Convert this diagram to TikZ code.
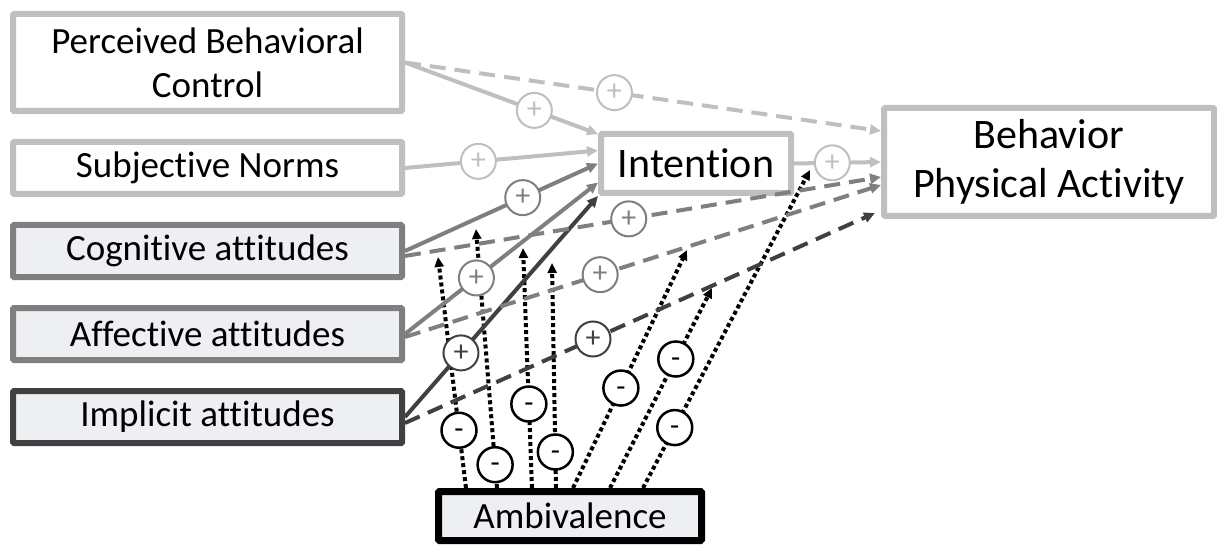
\documentclass[tikz,border=0pt]{standalone}
\usepackage{fontspec}
\setmainfont{Carlito}[Ligatures=NoCommon]
\usetikzlibrary{arrows.meta}
\definecolor{lightline}{RGB}{191,191,191}
\definecolor{midline}{RGB}{127,127,127}
\definecolor{darkline}{RGB}{64,64,64}
\definecolor{boxfill}{RGB}{238,239,242}
\tikzset{
    factornode/.style = {
        align=center,
        rectangle,
        rounded corners=1pt,
        line width=6pt,
        minimum width=389pt,
        minimum height=52pt,
        inner sep=0pt,
        outer sep=3pt,
        font=\fontsize{37}{44}\selectfont
    },
    lightnode/.style = {
        factornode,
        draw=lightline,
        fill=white
    },
    midnode/.style = {
        factornode,
        draw=midline,
        fill=boxfill
    },
    darknode/.style = {
        factornode,
        draw=darkline,
        fill=boxfill
    },
    bignode/.style = {
        lightnode,
        font=\fontsize{42}{49}\selectfont
    },
    signnode/.style = {
        circle,
        solid,
        fill=white,
        line width=2pt,
        minimum size=35pt,
        inner sep=0pt,
        font=\fontsize{30}{30}\selectfont
    },
    plusnode/.style = {
        signnode,
        draw=#1,
        text=#1
    },
    minusnode/.style = {
        signnode,
        draw=black,
        line width=2.5pt
    },
    link/.style = {
        line width=4pt,
        -{Triangle[length=11pt,width=10pt]}
    },
    dashlink/.style = {
        link,
        dash pattern=on 16pt off 9pt
    },
    dotlink/.style = {
        line width=4pt,
        dash pattern=on 4pt off 3pt,
        -{Triangle[length=10pt,width=9pt]}
    }
}

\begin{document}
\begin{tikzpicture}[x=1pt,y=-1pt]
    \useasboundingbox (0,0) rectangle (1217,545);
    \node [lightnode, minimum height=97pt] (pbc) at (207.5,62.5) {Perceived Behavioral\\Control};
    \node [lightnode] (sn) at (207.5,168) {Subjective Norms};
    \node [midnode] (ca) at (207.5,251) {Cognitive attitudes};
    \node [midnode] (aa) at (207.5,334) {Affective attitudes};
    \node [darknode] (ia) at (207.5,417) {Implicit attitudes};
    \node [bignode, minimum width=190pt, minimum height=59pt] (int) at (696,163.5) {Intention};
    \node [bignode, minimum width=330pt, minimum height=108pt] (beh) at (1049,162) {Behavior\\Physical Activity};
    \node [factornode, draw=black, fill=boxfill, line width=7pt, outer sep=3.5pt,
           minimum width=263pt, minimum height=49pt] (amb) at (570,516) {Ambivalence};

    \coordinate (mod1) at (438,257);
    \coordinate (mod2) at (476,229);
    \coordinate (mod3) at (523,248);
    \coordinate (mod4) at (552,263);
    \coordinate (mod5) at (687,250);
    \coordinate (mod6) at (712,288);
    \coordinate (mod7) at (810,170);

    \draw [dotlink] ([xshift=-104pt]amb.north) -- node [minusnode, pos=0.25] {-\vphantom{+}} (mod1);
    \draw [dotlink] ([xshift=-73pt]amb.north) -- node [minusnode, pos=0.09] {-\vphantom{+}} (mod2);
    \draw [dotlink] ([xshift=-38pt]amb.north) -- node [minusnode, pos=0.35] {-\vphantom{+}} (mod3);
    \draw [dotlink] ([xshift=-14pt]amb.north) -- node [minusnode, pos=0.16] {-\vphantom{+}} (mod4);
    \draw [dotlink] ([xshift=3pt]amb.north) -- node [minusnode, pos=0.42] {-\vphantom{+}} (mod5);
    \draw [dotlink] ([xshift=40pt]amb.north) -- node [minusnode, pos=0.645] {-\vphantom{+}} (mod6);
    \draw [dotlink] ([xshift=73pt]amb.north) -- node [minusnode, pos=0.19] {-\vphantom{+}} (mod7);

    \draw [link, lightline] (pbc.east) -- node [plusnode=lightline, pos=0.67] {+} ([yshift=-3pt]int.north west);
    \draw [link, lightline] (sn.east) -- node [plusnode=lightline, pos=0.38] {+} ([yshift=13pt]int.west);
    \draw [link, midline] (ca.east) -- node [plusnode=midline, pos=0.61] {+} (int.west);
    \draw [link, midline] (aa.east) -- node [plusnode=midline, pos=0.37] {+} ([yshift=-19pt]int.west);
    \draw [link, darkline] (ia.east) -- node [plusnode=darkline, pos=0.29] {+} (int.south west);

    \draw [dashlink, lightline] (pbc.east) -- node [plusnode=lightline, pos=0.44] {+} ([yshift=31pt]beh.west);
    \draw [link, lightline] (int.east) -- node [plusnode=lightline, pos=0.44] {+} (beh.west);
    \draw [dashlink, midline] ([yshift=-5pt]ca.east) -- node [plusnode=midline, pos=0.47] {+} ([yshift=-15pt]beh.west);
    \draw [dashlink, midline] ([yshift=-3pt]aa.east) -- node [plusnode=midline, pos=0.41] {+} ([yshift=-23pt]beh.west);
    \draw [dashlink, darkline] ([yshift=-6pt]ia.east) -- node [plusnode=darkline, pos=0.40] {+} ([xshift=-6pt,yshift=6pt]beh.south west);
\end{tikzpicture}
\end{document}
